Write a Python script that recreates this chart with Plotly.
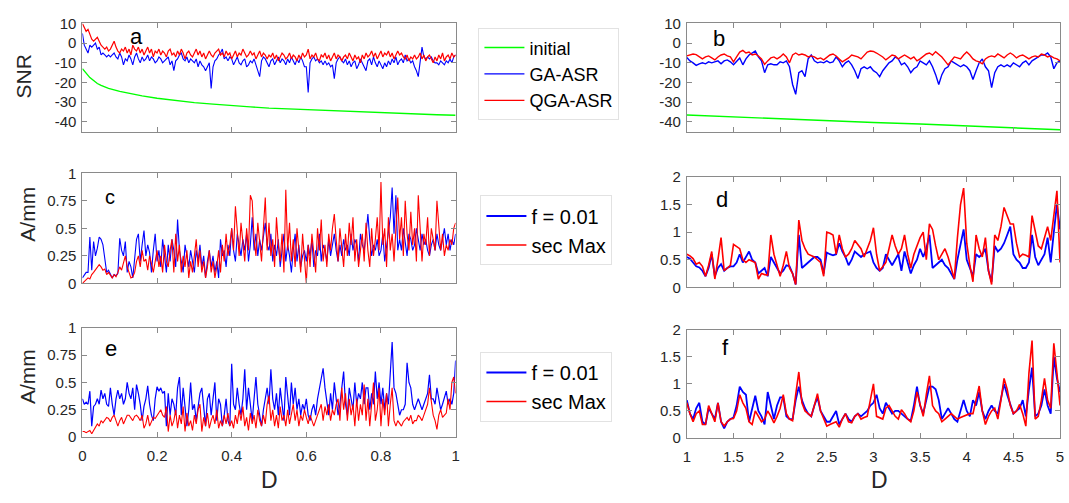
import numpy as np
import plotly.graph_objects as go

# ---------------- data ----------------
# Panel a : SNR vs D (0..1)
SNR_A_INIT_X = [0, 0.01, 0.02, 0.03, 0.04, 0.05, 0.07, 0.1, 0.13, 0.16, 0.2, 0.25, 0.3, 0.35, 0.4,
                0.45, 0.5, 0.55, 0.6, 0.65, 0.7, 0.75, 0.8, 0.85, 0.9, 0.95, 1.0]
SNR_A_INIT = [-13, -15.5, -17.5, -19, -20.5, -21.5, -23, -24.5, -25.8, -26.8, -28, -29.2, -30.2, -31,
              -31.8, -32.4, -33, -33.4, -33.7, -34.2, -34.7, -35.1, -35.5, -35.8, -36.1, -36.4, -36.6]
SNR_A_GA = [5, -1, -3, -5, -1, -2, -1, 0, -3, -2,
            -6, -5, -6, -7, -6, -7, -6, -5, -7, -8,
            -5, -7, -11, -8, -9, -6, -8, -11, -7, -5,
            -8, -10, -7, -9, -8, -6, -9, -7, -8, -10,
            -9, -7, -8, -10, -9, -8, -7, -11, -9, -14,
            -9, -8, -6, -5, -8, -9, -7, -10, -8, -9,
            -10, -8, -12, -9, -11, -12, -14, -12, -10, -23,
            -12, -9, -8, -6, -5, -3, -8, -7, -9, -7,
            -8, -11, -9, -7, -10, -11, -9, -8, -12, -11,
            -9, -10, -8, -11, -13, -17, -9, -7, -8, -10,
            -12, -9, -8, -11, -9, -7, -10, -8, -9, -11,
            -8, -10, -7, -9, -11, -8, -10, -7, -9, -12,
            -12, -25, -10, -8, -7, -9, -8, -10, -9, -11,
            -9, -11, -10, -12, -11, -18, -10, -8, -7, -9,
            -10, -8, -11, -9, -12, -10, -9, -13, -11, -8,
            -10, -12, -14, -9, -8, -11, -7, -10, -12, -9,
            -11, -13, -10, -12, -9, -11, -8, -10, -7, -11,
            -9, -8, -10, -6, -9, -8, -10, -9, -12, -14,
            -17, -9, -2, -7, -8, -7, -8, -7, -9, -10,
            -10, -11, -9, -10, -11, -9, -10, -8, -10, -7,
            -6]
SNR_A_QGA = [10, 8, 6, 7, 4, 2, 1, 2, 3, 1,
             -1, -2, -3, -2, -4, -3, -1, 1, -2, -4,
             -5, -3, -4, -2, -5, -3, -6, -1, -3, -4,
             -2, -5, -3, -6, -4, -2, -5, -3, -7, -4,
             -5, -3, -6, -4, -5, -7, -4, -3, -6, -5,
             -7, -4, -6, -3, -5, -8, -5, -4, -6, -7,
             -5, -3, -6, -4, -7, -5, -8, -6, -4, -6,
             -7, -5, -4, -3, -6, -5, -7, -4, -6, -5,
             -8, -6, -4, -7, -5, -6, -3, -5, -7, -6,
             -4, -6, -5, -8, -6, -4, -7, -5, -6, -8,
             -6, -7, -5, -8, -6, -9, -7, -5, -6, -8,
             -7, -5, -8, -6, -7, -9, -6, -8, -5, -7,
             -6, -3, -8, -6, -7, -5, -8, -9, -6, -7,
             -5, -8, -6, -9, -7, -5, -8, -6, -7, -9,
             -7, -6, -8, -5, -7, -9, -6, -8, -7, -10,
             -6, -8, -5, -7, -6, -4, -7, -5, -8, -6,
             -4, -7, -5, -6, -4, -7, -5, -8, -6, -4,
             -6, -5, -7, -8, -6, -9, -7, -8, -6, -8,
             -7, -5, -8, -6, -9, -7, -6, -8, -10, -7,
             -9, -6, -8, -5, -9, -7, -6, -8, -5, -7,
             -6]

# Panel b : SNR vs D (1..5)
SNR_B_INIT_X = [1, 1.5, 2, 2.5, 3, 3.5, 4, 4.5, 5]
SNR_B_INIT = [-36.5, -37.5, -38.5, -39.4, -40.3, -41.1, -42, -43, -44]
SNR_B_GA = [-7.3, -9, -10, -11.3, -10.5, -10, -10.5, -9.5, -10, -9.5,
            -9, -10.5, -9, -8.5, -9.5, -11, -9, -7.5, -11, -8,
            -6, -5, -4, -7, -9, -15, -11, -10.5, -11, -11,
            -9.5, -10, -9, -12, -21, -26, -15, -14, -17, -8,
            -6, -9, -10, -9.5, -10, -9, -10, -9.5, -7, -9,
            -12, -10, -9, -11, -14, -18, -13, -12, -13, -12,
            -14, -15, -17, -14, -12, -10, -9, -7, -8, -11,
            -10, -12, -15, -13, -12, -9, -10, -11, -9, -12,
            -16, -21, -16, -13, -12, -9, -10, -11, -12, -11,
            -12, -14, -18.5, -14, -10, -8, -12, -14, -22.6, -15,
            -12, -11, -12, -11, -12, -10, -11, -12, -10, -9,
            -11, -9, -8, -7, -6, -6, -5, -7, -13, -10,
            -9]
SNR_B_QGA = [-6.5, -6, -5.5, -5.8, -7, -8, -7, -6.5, -7.5, -8.5,
             -7, -6, -5.5, -6.5, -7, -9.5, -7, -4.5, -3.7, -5,
             -4.5, -6, -5.5, -6.5, -8, -10.8, -9, -7.5, -7, -8,
             -7, -5.5, -7, -10, -6, -5, -6, -5.5, -6, -7,
             -6.5, -7, -8, -7.5, -8.5, -7, -6, -5.5, -6.5, -8,
             -9.5, -8.5, -7.5, -6, -6.5, -7, -8, -6, -4.5, -4,
             -4.2, -5, -6, -7, -8.5, -7, -6, -6.5, -8, -7,
             -6, -7, -8, -7, -9, -8, -6.5, -5.5, -5, -6,
             -4.3, -5.5, -7, -9, -11, -9, -7, -7.5, -8, -6,
             -4.5, -6, -8, -9, -9.5, -10.5, -8, -7, -6.5, -7,
             -5.5, -6.5, -7.5, -6, -5, -6, -7.5, -6.5, -6, -7,
             -8, -7, -6.5, -7, -5.5, -6, -7, -6.5, -7.5, -8,
             -9]

# Panel c : A/mm vs D (0..1)
AMP_C_F = [0.05, 0.08, 0.1, 0.1, 0.42, 0.12, 0.38, 0.25, 0.32, 0.42,
           0.4, 0.35, 0.2, 0.1, 0.12, 0.08, 0.05, 0.08, 0.07, 0.09,
           0.41, 0.3, 0.25, 0.38, 0.1, 0.2, 0.15, 0.05, 0.2, 0.4,
           0.45, 0.2, 0.35, 0.48, 0.25, 0.35, 0.28, 0.1, 0.3, 0.45,
           0.2, 0.3, 0.15, 0.4, 0.25, 0.1, 0.35, 0.2, 0.4, 0.3,
           0.15, 0.58, 0.3, 0.2, 0.1, 0.35, 0.25, 0.15, 0.3, 0.2,
           0.1, 0.3, 0.2, 0.35, 0.15, 0.25, 0.05, 0.2, 0.3, 0.15,
           0.25, 0.1, 0.2, 0.05, 0.4, 0.25, 0.3, 0.15, 0.35, 0.25,
           0.5, 0.3, 0.2, 0.45, 0.35, 0.25, 0.4, 0.3, 0.45, 0.2,
           0.35, 0.6, 0.3, 0.45, 0.25, 0.4, 0.3, 0.45, 0.55, 0.35,
           0.3, 0.45, 0.2, 0.35, 0.25, 0.4, 0.15, 0.3, 0.45, 0.2,
           0.35, 0.25, 0.1, 0.3, 0.45, 0.2, 0.35, 0.15, 0.25, 0.3,
           0.2, 0.35, 0.25, 0.4, 0.15, 0.3, 0.25, 0.45, 0.2, 0.35,
           0.3, 0.2, 0.4, 0.25, 0.35, 0.45, 0.3, 0.2, 0.35, 0.25,
           0.4, 0.3, 0.35, 0.25, 0.45, 0.3, 0.4, 0.35, 0.2, 0.45,
           0.35, 0.3, 0.45, 0.63, 0.4, 0.25, 0.35, 0.3, 0.4, 0.25,
           0.3, 0.45, 0.2, 0.35, 0.5, 0.6, 0.87, 0.45, 0.8, 0.3,
           0.4, 0.3, 0.5, 0.35, 0.25, 0.45, 0.4, 0.3, 0.35, 0.5,
           0.4, 0.3, 0.45, 0.35, 0.4, 0.3, 0.25, 0.35, 0.4, 0.3,
           0.45, 0.35, 0.3, 0.4, 0.5, 0.35, 0.45, 0.3, 0.4, 0.35,
           0.45]
AMP_C_SEC = [0.0, 0.02, 0.03, 0.05, 0.04, 0.08, 0.1, 0.12, 0.14, 0.17,
             0.15, 0.12, 0.13, 0.08, 0.1, 0.07, 0.05, 0.08, 0.06, 0.1,
             0.15, 0.12, 0.2, 0.25, 0.15, 0.1, 0.05, 0.06, 0.1, 0.2,
             0.25, 0.15, 0.3, 0.2, 0.22, 0.12, 0.25, 0.18, 0.1, 0.2,
             0.3, 0.15, 0.25, 0.1, 0.35, 0.2, 0.15, 0.3, 0.4, 0.1,
             0.45, 0.2, 0.35, 0.1, 0.25, 0.15, 0.3, 0.05, 0.2, 0.1,
             0.25, 0.4, 0.15, 0.3, 0.1, 0.2, 0.05, 0.15, 0.3, 0.1,
             0.2, 0.05, 0.15, 0.3, 0.1, 0.35, 0.2, 0.45, 0.25, 0.35,
             0.5, 0.3, 0.7, 0.45, 0.25, 0.55, 0.35, 0.2, 0.5, 0.3,
             0.8, 0.75, 0.4, 0.25, 0.55, 0.35, 0.2, 0.5, 0.78, 0.3,
             0.55, 0.25, 0.4, 0.15, 0.6, 0.35, 0.2, 0.45, 0.1, 0.85,
             0.3, 0.55, 0.2, 0.4, 0.15, 0.5, 0.25, 0.1, 0.45, 0.2,
             0.0, 0.35, 0.15, 0.45, 0.25, 0.1, 0.5, 0.3, 0.58, 0.2,
             0.35, 0.15, 0.45, 0.3, 0.5, 0.63, 0.4, 0.2, 0.5, 0.3,
             0.15, 0.45, 0.25, 0.55, 0.35, 0.6, 0.2, 0.4, 0.15, 0.3,
             0.45, 0.2, 0.55, 0.3, 0.15, 0.5, 0.25, 0.4, 0.6, 0.3,
             0.92, 0.35, 0.5, 0.15, 0.6, 0.3, 0.45, 0.2, 0.55, 0.78,
             0.4, 0.6, 0.25, 0.75, 0.45, 0.3, 0.65, 0.35, 0.5, 0.2,
             0.8, 0.55, 0.2, 0.45, 0.35, 0.6, 0.25, 0.5, 0.4, 0.3,
             0.75, 0.5, 0.3, 0.45, 0.25, 0.35, 0.3, 0.4, 0.35, 0.5,
             0.55]

# Panel d : A/mm vs D (1..5)
AMP_D_F = [0.55, 0.52, 0.45, 0.38, 0.36, 0.3, 0.2, 0.35, 0.6, 0.2,
           0.35, 0.42, 0.3, 0.35, 0.38, 0.38, 0.45, 0.6, 0.45, 0.55,
           0.65, 0.5, 0.45, 0.25, 0.3, 0.35, 0.2, 0.55, 0.45, 0.35,
           0.25, 0.3, 0.4, 0.38, 0.25, 0.05, 0.95, 0.35, 0.4, 0.45,
           0.5, 0.55, 0.55, 0.5, 0.25, 0.63, 0.6, 0.58, 0.6, 0.8,
           0.65, 0.55, 0.4, 0.5, 0.65, 0.6, 0.55, 0.6, 0.62, 0.65,
           0.45, 0.35, 0.3, 0.35, 0.6, 0.5, 0.4, 0.5, 0.6, 0.3,
           0.65, 0.45, 0.25, 0.4, 0.5, 0.7, 0.55, 0.7, 0.95, 0.35,
           0.4, 0.45, 0.5, 0.4, 0.35, 0.25, 0.15, 0.5, 0.8, 1.05,
           0.5, 0.35, 0.2, 0.6, 0.55, 0.6, 0.7, 0.3, 0.1, 0.75,
           0.65, 0.7, 0.8, 0.95, 1.1, 0.6, 0.5, 0.45, 0.35, 0.35,
           0.45, 0.95, 0.55, 0.4, 0.5, 0.6, 0.9, 0.45, 1.0, 1.5,
           1.05]
AMP_D_SEC = [0.6, 0.57, 0.52, 0.42, 0.45, 0.38, 0.2, 0.4, 0.65, 0.15,
             0.5, 0.9, 0.3, 0.35, 0.4, 0.78, 0.74, 0.7, 0.5, 0.45,
             0.5, 0.47, 0.45, 0.15, 0.25, 0.23, 0.22, 0.95, 0.6, 0.4,
             0.2, 0.4, 0.65, 0.35, 0.25, 0.05, 1.22, 0.85, 0.7, 0.6,
             0.58, 0.55, 0.5, 0.45, 0.2, 1.0, 0.98, 0.95, 0.6, 0.95,
             0.7, 0.55, 0.6, 0.7, 0.85, 0.78, 0.7, 0.55, 0.7, 0.85,
             1.08, 0.6, 0.3, 0.38, 0.45, 0.7, 0.95, 0.75, 0.6, 0.7,
             0.95, 0.6, 0.35, 0.6, 0.75, 0.9, 1.0, 0.5, 1.15, 1.05,
             0.75, 0.5, 0.6, 0.7, 0.55, 0.35, 0.15, 0.9, 1.5, 1.8,
             0.8, 0.4, 0.1, 0.95, 0.7, 0.55, 0.9, 0.3, 0.05, 0.95,
             0.85, 1.1, 1.45, 1.3, 1.15, 1.15, 0.8, 0.55, 0.6, 0.58,
             0.55, 1.3, 1.0, 0.75, 0.7, 0.9, 1.1, 0.85, 1.35, 1.75,
             0.45]

# Panel e : A/mm vs D (0..1)
AMP_E_F = [0.35, 0.3, 0.32, 0.3, 0.42, 0.1, 0.28, 0.3, 0.35, 0.3,
           0.43, 0.35, 0.4, 0.3, 0.28, 0.45, 0.3, 0.2, 0.35, 0.43,
           0.35, 0.4, 0.3, 0.35, 0.5, 0.4, 0.35, 0.45, 0.25, 0.48,
           0.4, 0.3, 0.15, 0.28, 0.35, 0.47, 0.3, 0.2, 0.15, 0.35,
           0.46, 0.42, 0.45, 0.4, 0.42, 0.1, 0.4, 0.2, 0.35, 0.3,
           0.2, 0.45, 0.55, 0.2, 0.45, 0.3, 0.1, 0.25, 0.5, 0.25,
           0.3, 0.15, 0.3, 0.4, 0.45, 0.25, 0.1, 0.35, 0.4, 0.2,
           0.35, 0.5, 0.15, 0.35, 0.3, 0.1, 0.2, 0.35, 0.15, 0.1,
           0.67, 0.3, 0.25, 0.45, 0.3, 0.2, 0.35, 0.62, 0.25, 0.45,
           0.3, 0.15, 0.35, 0.55, 0.3, 0.2, 0.1, 0.25, 0.35, 0.45,
           0.3, 0.62, 0.35, 0.25, 0.4, 0.2, 0.45, 0.3, 0.15, 0.55,
           0.35, 0.2, 0.5, 0.3, 0.45, 0.25, 0.35, 0.2, 0.3, 0.25,
           0.35, 0.2, 0.15, 0.25, 0.3, 0.2, 0.35, 0.45, 0.55, 0.63,
           0.45, 0.3, 0.2, 0.4, 0.25, 0.5, 0.35, 0.2, 0.3, 0.45,
           0.6, 0.3, 0.2, 0.45, 0.35, 0.25, 0.5, 0.3, 0.4, 0.35,
           0.5, 0.3, 0.45, 0.45, 0.25, 0.4, 0.3, 0.6, 0.35, 0.5,
           0.3, 0.45, 0.25, 0.4, 0.3, 0.57, 0.87, 0.45, 0.4, 0.3,
           0.2, 0.25, 0.25, 0.3, 0.68, 0.5, 0.45, 0.3, 0.25, 0.3,
           0.35, 0.3, 0.25, 0.3, 0.35, 0.4, 0.57, 0.35, 0.35, 0.3,
           0.45, 0.35, 0.25, 0.3, 0.35, 0.42, 0.3, 0.35, 0.3, 0.4,
           0.7]
AMP_E_SEC = [0.05, 0.05, 0.04, 0.05, 0.06, 0.03, 0.06, 0.1, 0.12, 0.1,
             0.15, 0.13, 0.16, 0.18, 0.17, 0.14, 0.18, 0.2, 0.15, 0.1,
             0.15, 0.18, 0.12, 0.16, 0.2, 0.2, 0.17, 0.15, 0.19, 0.2,
             0.18, 0.15, 0.2, 0.08, 0.12, 0.2, 0.1, 0.15, 0.18, 0.17,
             0.2, 0.22, 0.25, 0.2, 0.18, 0.28, 0.05, 0.2, 0.1, 0.15,
             0.25, 0.08, 0.2, 0.12, 0.28, 0.05, 0.22, 0.1, 0.15, 0.06,
             0.2, 0.12, 0.25, 0.3, 0.05, 0.18, 0.1, 0.22, 0.08, 0.15,
             0.2, 0.12, 0.25, 0.08, 0.15, 0.1, 0.2, 0.12, 0.22, 0.1,
             0.15, 0.08, 0.2, 0.12, 0.25, 0.15, 0.28, 0.1, 0.18, 0.06,
             0.22, 0.12, 0.2, 0.08, 0.25, 0.15, 0.1, 0.2, 0.12, 0.3,
             0.38, 0.15, 0.25, 0.1, 0.2, 0.08, 0.28, 0.15, 0.2, 0.1,
             0.25, 0.12, 0.2, 0.3, 0.15, 0.25, 0.1, 0.2, 0.15, 0.25,
             0.18, 0.12, 0.2, 0.15, 0.1, 0.15, 0.2, 0.25, 0.3, 0.15,
             0.28, 0.2, 0.3, 0.15, 0.25, 0.2, 0.3, 0.35, 0.15, 0.45,
             0.25, 0.4, 0.15, 0.35, 0.2, 0.3, 0.1, 0.35, 0.15, 0.3,
             0.2, 0.48, 0.15, 0.35, 0.1, 0.3, 0.5, 0.15, 0.25, 0.45,
             0.1, 0.35, 0.2, 0.4, 0.1, 0.3, 0.45, 0.15, 0.1, 0.15,
             0.12, 0.1, 0.14, 0.16, 0.18, 0.15, 0.2, 0.12, 0.15, 0.15,
             0.2, 0.18, 0.15, 0.2, 0.25, 0.3, 0.45, 0.3, 0.2, 0.15,
             0.07, 0.2, 0.25, 0.18, 0.2, 0.22, 0.35, 0.25, 0.5, 0.55,
             0.4]

# Panel f : A/mm vs D (1..5)
AMP_F_F = [0.7, 0.45, 0.35, 0.55, 0.65, 0.3, 0.25, 0.55, 0.45, 0.35,
           0.65, 0.3, 0.18, 0.3, 0.35, 0.38, 0.6, 0.95, 0.85, 0.8,
           0.3, 0.55, 0.78, 0.5, 0.4, 0.25, 0.85, 0.6, 0.35, 0.6,
           0.75, 0.75, 0.4, 0.35, 0.35, 0.7, 0.95, 0.7, 0.55, 0.45,
           0.4, 0.6, 0.75, 0.5, 0.4, 0.3, 0.3, 0.4, 0.5, 0.25,
           0.35, 0.45, 0.35, 0.3, 0.4, 0.45, 0.4, 0.45, 0.5, 0.6,
           0.65, 0.8, 0.55, 0.45, 0.65, 0.55, 0.45, 0.5, 0.5, 0.45,
           0.4, 0.35, 0.32, 0.6, 0.95, 0.6, 0.45, 0.7, 0.95, 0.95,
           0.9, 0.7, 0.35, 0.45, 0.55, 0.45, 0.35, 0.3, 0.5, 0.7,
           0.5, 0.4, 0.7, 0.6, 0.85, 0.5, 0.35, 0.5, 0.6, 0.5,
           0.45, 0.7, 1.0, 0.8, 0.6, 0.45, 0.5, 0.55, 0.7, 0.4,
           0.9, 1.3, 0.4, 0.45, 0.6, 0.9, 0.6, 0.45, 1.5, 1.1,
           0.85]
AMP_F_SEC = [0.65, 0.45, 0.3, 0.45, 0.5, 0.25, 0.25, 0.6, 0.45, 0.3,
             0.65, 0.3, 0.22, 0.3, 0.35, 0.36, 0.5, 0.8, 0.65, 0.55,
             0.3, 0.25, 0.5, 0.4, 0.3, 0.35, 0.5, 0.4, 0.28, 0.4,
             0.55, 0.8, 0.45, 0.35, 0.32, 0.8, 1.22, 0.65, 0.5, 0.45,
             0.4, 0.6, 0.82, 0.5, 0.35, 0.22, 0.25, 0.28, 0.3, 0.2,
             0.35, 0.45, 0.3, 0.28, 0.4, 0.45, 0.35, 0.38, 0.4, 0.7,
             1.0, 0.4, 0.38, 0.35, 0.55, 0.6, 0.5, 0.4, 0.35, 0.52,
             0.45, 0.35, 0.3, 0.5, 0.85, 0.6, 0.4, 0.8, 1.15, 0.6,
             0.5, 0.45, 0.3, 0.35, 0.4, 0.45, 0.4, 0.35, 0.38, 0.4,
             0.42, 0.45, 0.45, 0.7, 0.96, 0.5, 0.25, 0.4, 0.5, 0.55,
             0.35, 0.7, 1.1, 0.9, 0.6, 0.45, 0.5, 0.62, 0.45, 0.22,
             1.2, 1.8, 0.35, 0.4, 0.7, 1.1, 0.7, 0.55, 1.75, 1.2,
             0.6]

# ticks
LEFT_XTICKS = [0, 0.2, 0.4, 0.6, 0.8, 1]
LEFT_XTICKTEXT = ["0", "0.2", "0.4", "0.6", "0.8", "1"]
RIGHT_XTICKS = [1, 1.5, 2, 2.5, 3, 3.5, 4, 4.5, 5]
RIGHT_XTICKTEXT = ["1", "1.5", "2", "2.5", "3", "3.5", "4", "4.5", "5"]
SNR_YTICKS = [10, 0, -10, -20, -30, -40]
SNR_YTICKTEXT = ["10", "0", "-10", "-20", "-30", "-40"]
AMP1_YTICKS = [0, 0.25, 0.5, 0.75, 1]
AMP1_YTICKTEXT = ["0", "0.25", "0.5", "0.75", "1"]
AMP2_YTICKS = [0, 0.5, 1, 1.5, 2]
AMP2_YTICKTEXT = ["0", "0.5", "1", "1.5", "2"]

SERIES_SNR = ["initial", "GA-ASR", "QGA-ASR"]
SERIES_AMP = ["f = 0.01", "sec Max"]

# ---------------- styling ----------------
W, H = 1069, 503
GREEN, BLUE, RED = "#00ff00", "#0000ff", "#ff0000"
AXC = "#8a8a8a"
FONT = "Liberation Sans, Arial, Helvetica, sans-serif"
TICKFONT = dict(family=FONT, size=15, color="#262626")


def px_x(p):
    return p / W


def px_y(p):
    return 1 - p / H


LEFT_DOM = [px_x(79), px_x(455)]
RIGHT_DOM = [px_x(688), px_x(1064)]


def xaxis(dom, rng, vals, text, show, anchor):
    return dict(domain=dom, range=rng, anchor=anchor, showline=True, linecolor=AXC, linewidth=1,
                mirror="ticks", ticks="inside", ticklen=5, tickcolor=AXC, tickvals=vals,
                ticktext=text, showticklabels=show, showgrid=False, zeroline=False,
                tickfont=TICKFONT, fixedrange=True, ticklabelstandoff=5)


def yaxis(top, bottom, rng, vals, text, anchor):
    return dict(domain=[px_y(bottom), px_y(top)], range=rng, anchor=anchor, showline=True,
                linecolor=AXC, linewidth=1, mirror="ticks", ticks="inside", ticklen=5,
                tickcolor=AXC, tickvals=vals, ticktext=text, showgrid=False, zeroline=False,
                tickfont=TICKFONT, fixedrange=True, ticklabelstandoff=2)


fig = go.Figure()

xl = lambda arr: np.linspace(0, 1, len(arr))
xr = lambda arr: np.linspace(1, 5, len(arr))

# panel a
fig.add_trace(go.Scatter(x=SNR_A_INIT_X, y=SNR_A_INIT, mode="lines", name=SERIES_SNR[0],
                         line=dict(color=GREEN, width=1.4), xaxis="x", yaxis="y", legend="legend"))
fig.add_trace(go.Scatter(x=xl(SNR_A_GA), y=SNR_A_GA, mode="lines", name=SERIES_SNR[1],
                         line=dict(color=BLUE, width=1.1), xaxis="x", yaxis="y", legend="legend"))
fig.add_trace(go.Scatter(x=xl(SNR_A_QGA), y=SNR_A_QGA, mode="lines", name=SERIES_SNR[2],
                         line=dict(color=RED, width=1.2), xaxis="x", yaxis="y", legend="legend"))
# panel b
fig.add_trace(go.Scatter(x=SNR_B_INIT_X, y=SNR_B_INIT, mode="lines", name=SERIES_SNR[0], showlegend=False,
                         line=dict(color=GREEN, width=1.4), xaxis="x2", yaxis="y2"))
fig.add_trace(go.Scatter(x=xr(SNR_B_GA), y=SNR_B_GA, mode="lines", name=SERIES_SNR[1], showlegend=False,
                         line=dict(color=BLUE, width=1.4), xaxis="x2", yaxis="y2"))
fig.add_trace(go.Scatter(x=xr(SNR_B_QGA), y=SNR_B_QGA, mode="lines", name=SERIES_SNR[2], showlegend=False,
                         line=dict(color=RED, width=1.4), xaxis="x2", yaxis="y2"))
# panel c
fig.add_trace(go.Scatter(x=xl(AMP_C_F), y=AMP_C_F, mode="lines", name=SERIES_AMP[0], showlegend=False,
                         line=dict(color=BLUE, width=1.1), xaxis="x3", yaxis="y3"))
fig.add_trace(go.Scatter(x=xl(AMP_C_SEC), y=AMP_C_SEC, mode="lines", name=SERIES_AMP[1], showlegend=False,
                         line=dict(color=RED, width=1.1), xaxis="x3", yaxis="y3"))
# panel d
fig.add_trace(go.Scatter(x=xr(AMP_D_F), y=AMP_D_F, mode="lines", name=SERIES_AMP[0],
                         line=dict(color=BLUE, width=1.8), xaxis="x4", yaxis="y4", legend="legend2"))
fig.add_trace(go.Scatter(x=xr(AMP_D_SEC), y=AMP_D_SEC, mode="lines", name=SERIES_AMP[1],
                         line=dict(color=RED, width=1.6), xaxis="x4", yaxis="y4", legend="legend2"))
# panel e
fig.add_trace(go.Scatter(x=xl(AMP_E_F), y=AMP_E_F, mode="lines", name=SERIES_AMP[0], showlegend=False,
                         line=dict(color=BLUE, width=1.2), xaxis="x5", yaxis="y5"))
fig.add_trace(go.Scatter(x=xl(AMP_E_SEC), y=AMP_E_SEC, mode="lines", name=SERIES_AMP[1], showlegend=False,
                         line=dict(color=RED, width=1.1), xaxis="x5", yaxis="y5"))
# panel f
fig.add_trace(go.Scatter(x=xr(AMP_F_F), y=AMP_F_F, mode="lines", name=SERIES_AMP[0],
                         line=dict(color=BLUE, width=1.8), xaxis="x6", yaxis="y6", legend="legend3"))
fig.add_trace(go.Scatter(x=xr(AMP_F_SEC), y=AMP_F_SEC, mode="lines", name=SERIES_AMP[1],
                         line=dict(color=RED, width=1.6), xaxis="x6", yaxis="y6", legend="legend3"))

legend_common = dict(xanchor="left", yanchor="top", bgcolor="white", bordercolor="#e2e2e2",
                     borderwidth=1, tracegroupgap=0, itemclick=False, itemdoubleclick=False,
                     itemwidth=40)

annotations = []
for txt, x, y, size in [("a", 134, 28, 22), ("b", 720, 31, 22), ("c", 107, 195, 20),
                        ("d", 723, 197, 22), ("e", 108, 351, 22), ("f", 727, 350, 22)]:
    annotations.append(dict(text=txt, x=px_x(x), y=px_y(y), xref="paper", yref="paper",
                            xanchor="center", yanchor="middle",
                            showarrow=False, font=dict(family=FONT, size=size, color="black")))
for txt, x, y in [("SNR", 20, 70), ("A/mm", 24, 212), ("A/mm", 23, 380)]:
    annotations.append(dict(text=txt, x=px_x(x), y=px_y(y), xref="paper", yref="paper",
                            xanchor="center", yanchor="middle",
                            showarrow=False, textangle=-90,
                            font=dict(family=FONT, size=21, color="#262626")))
for x in (267, 882):
    annotations.append(dict(text="D", x=px_x(x), y=px_y(487), xref="paper", yref="paper",
                            xanchor="center", yanchor="middle",
                            showarrow=False, font=dict(family=FONT, size=23, color="#262626")))

fig.update_layout(
    width=W, height=H, autosize=False,
    margin=dict(l=0, r=0, t=0, b=0),
    paper_bgcolor="white", plot_bgcolor="white",
    font=dict(family=FONT),
    xaxis=xaxis(LEFT_DOM, [0, 1], LEFT_XTICKS, LEFT_XTICKTEXT, False, "y"),
    yaxis=yaxis(15, 127, [-45, 10], SNR_YTICKS, SNR_YTICKTEXT, "x"),
    xaxis2=xaxis(RIGHT_DOM, [1, 5], RIGHT_XTICKS, RIGHT_XTICKTEXT, False, "y2"),
    yaxis2=yaxis(15, 127, [-45, 10], SNR_YTICKS, SNR_YTICKTEXT, "x2"),
    xaxis3=xaxis(LEFT_DOM, [0, 1], LEFT_XTICKS, LEFT_XTICKTEXT, False, "y3"),
    yaxis3=yaxis(170, 284, [0, 1], AMP1_YTICKS, AMP1_YTICKTEXT, "x3"),
    xaxis4=xaxis(RIGHT_DOM, [1, 5], RIGHT_XTICKS, RIGHT_XTICKTEXT, False, "y4"),
    yaxis4=yaxis(174, 288, [0, 2], AMP2_YTICKS, AMP2_YTICKTEXT, "x4"),
    xaxis5=xaxis(LEFT_DOM, [0, 1], LEFT_XTICKS, LEFT_XTICKTEXT, True, "y5"),
    yaxis5=yaxis(330, 443, [0, 1], AMP1_YTICKS, AMP1_YTICKTEXT, "x5"),
    xaxis6=xaxis(RIGHT_DOM, [1, 5], RIGHT_XTICKS, RIGHT_XTICKTEXT, True, "y6"),
    yaxis6=yaxis(332, 444, [0, 2], AMP2_YTICKS, AMP2_YTICKTEXT, "x6"),
    legend=dict(x=px_x(478), y=px_y(20), font=dict(family=FONT, size=18, color="black"),
                entrywidth=145, **legend_common),
    legend2=dict(x=px_x(480), y=px_y(193), font=dict(family=FONT, size=20, color="black"),
                 entrywidth=152, **legend_common),
    legend3=dict(x=px_x(480), y=px_y(355), font=dict(family=FONT, size=20, color="black"),
                 entrywidth=152, **legend_common),
    annotations=annotations,
    showlegend=True,
)

fig.write_html("out.html")
